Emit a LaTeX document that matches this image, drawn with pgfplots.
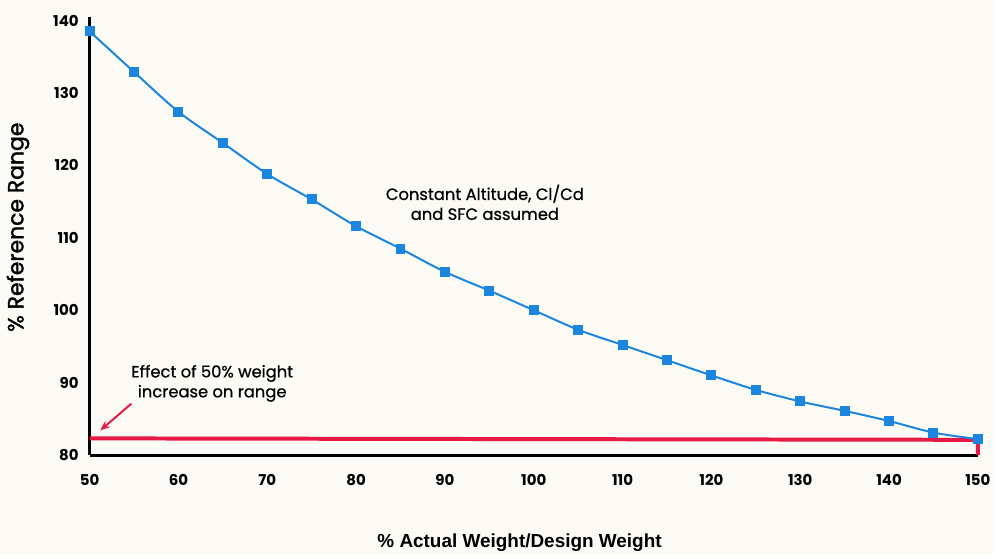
\documentclass[border=0pt]{standalone}
\usepackage{fontspec}
\setmainfont{Poppins}
\newfontfamily\labfont{Liberation Sans}
\newfontfamily\annfont[FakeBold=0.6]{Poppins}
\newfontfamily\ylabfont[FakeBold=1.6]{Poppins}
\usepackage{pgfplots}
\pgfplotsset{compat=1.18}
\usetikzlibrary{arrows.meta}
\definecolor{bgc}{RGB}{251,250,245}
\definecolor{lineblue}{RGB}{28,134,222}
\definecolor{annred}{RGB}{232,24,68}
\begin{document}
\begin{tikzpicture}
\fill[bgc] (-45pt,-50pt) rectangle (453.5pt,228.5pt);
\begin{axis}[
  scale only axis,
  width=446pt, height=220pt,
  xmin=50, xmax=150, ymin=80, ymax=140.5,
  axis x line*=bottom, axis y line*=left,
  axis line style={line width=1.5pt, black},
  xtick={50,60,...,150}, ytick={80,90,...,140},
  major tick length=0pt,
  /pgf/number format/assume math mode=true,
  tick label style={font=\fontsize{7.5}{9}\selectfont\bfseries},
  xticklabel style={yshift=-6pt},
  yticklabel style={xshift=-2pt},
  xlabel={\% Actual Weight/Design Weight},
  ylabel={\% Reference Range},
  xlabel style={font=\labfont\fontsize{9.5}{11}\selectfont\bfseries, at={(axis description cs:0.484,-0.2)}, anchor=center},
  ylabel style={font=\ylabfont\fontsize{11}{13}\selectfont, at={(axis description cs:-0.0807,0.52)}, anchor=center},
  clip=false,
]
\addplot[annred, line width=2pt] coordinates {(50,82.3) (100,82.2) (150,82.1) (150,80)};
\addplot[lineblue, line width=1pt, smooth, mark=square*, mark size=2pt, mark options={solid}] coordinates {
(50,138.5) (55,132.9) (60,127.4) (65,123.1) (70,118.8) (75,115.3)
(80,111.6) (85,108.5) (90,105.3) (95,102.7) (100,100.0) (105,97.3)
(110,95.2) (115,93.1) (120,91.0) (125,89.0) (130,87.4) (135,86.1)
(140,84.7) (145,83.1) (150,82.2)};
\draw[annred, line width=1pt, -{Stealth[length=5pt,width=4pt]}] (axis cs:54.7,87.1) -- (axis cs:51.2,83.4);
\node[align=center, font=\annfont\fontsize{8.2}{10}\selectfont] at (axis cs:63.8,89.9) {Effect of 50\% weight\\increase on range};
\node[align=center, font=\annfont\fontsize{8.2}{10}\selectfont] at (axis cs:94.5,114.9) {Constant Altitude, Cl/Cd\\and SFC assumed};
\end{axis}
\end{tikzpicture}
\end{document}
